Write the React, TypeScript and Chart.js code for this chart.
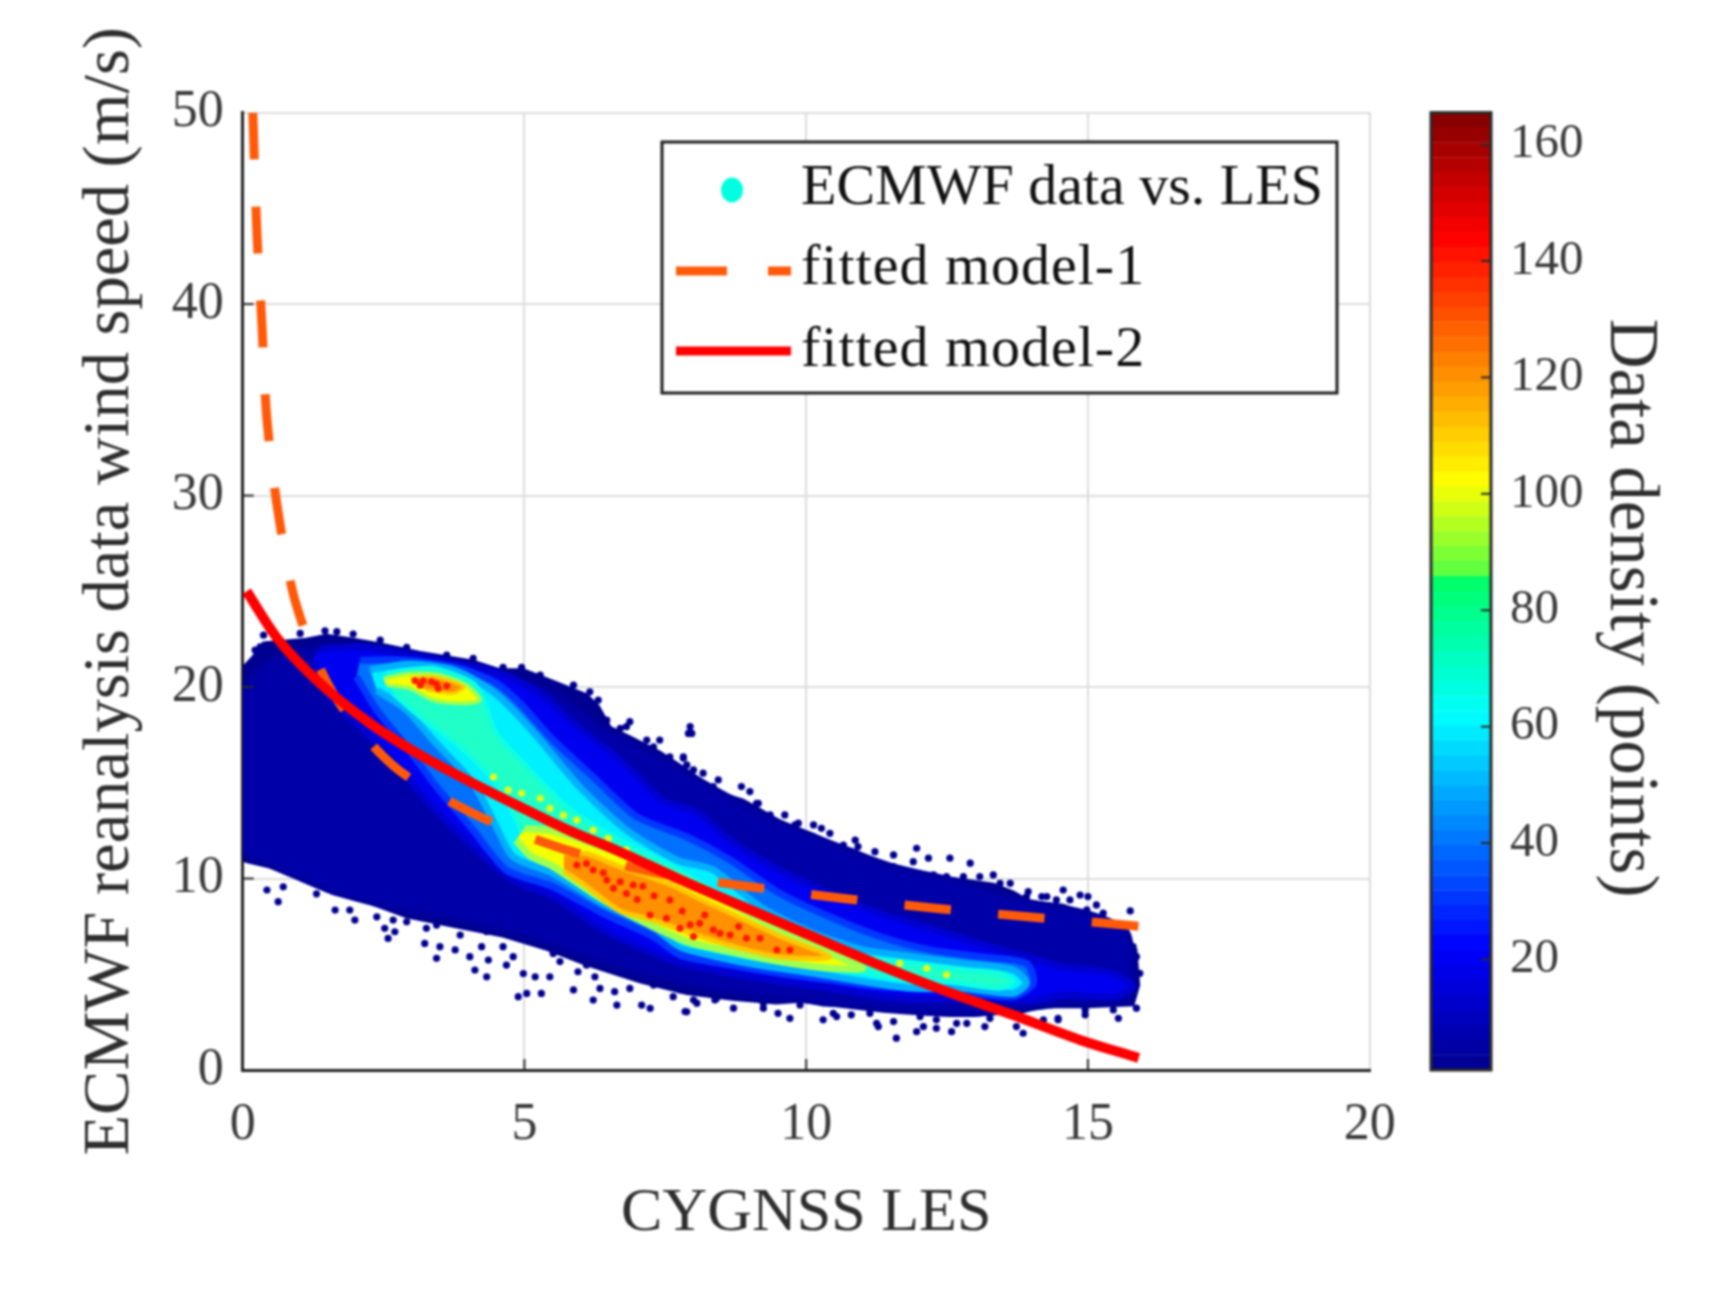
import React, { useEffect, useRef } from "react";
import { Chart, registerables } from "chart.js";

Chart.register(...registerables);

const FONT = '"Liberation Serif", serif';

const xTicks = [0, 5, 10, 15, 20];
const yTicks = [0, 10, 20, 30, 40, 50];
const legendLabels = ["ECMWF data vs. LES", "fitted model-1", "fitted model-2"];

const model1X = [0.18, 0.25, 0.34, 0.43, 0.63, 0.96, 1.6, 2.67, 4.09, 5.63, 7.35, 8.94, 10.63, 12.29, 13.94, 15.57, 15.9];
const model1Y = [50, 43.9, 39, 34, 29.1, 24.2, 19.7, 15.9, 13.4, 11.6, 10.3, 9.6, 8.97, 8.45, 8.0, 7.6, 7.5];
const model2X = [0.07, 0.6, 1.37, 2.26, 3.15, 4.04, 4.92, 5.8, 6.69, 7.76, 8.94, 10.13, 11.3, 12.5, 13.67, 14.86, 15.9];
const model2Y = [25, 22.6, 20.2, 18.1, 16.45, 15.05, 13.75, 12.5, 11.4, 9.95, 8.45, 6.95, 5.48, 4.09, 2.87, 1.57, 0.63];

type P = number[];
const envelope: P[] = [[0,21.0],[0.19,21.6],[0.37,22.3],[0.78,22.4],[1.13,22.5],[1.49,22.7],[1.96,22.5],[2.44,22.25],[3.15,21.8],[4.09,21.35],[4.57,20.9],[4.98,20.9],[5.51,20.3],[6.1,19.6],[6.31,19.0],[6.52,17.9],[6.87,17.4],[7.4,16.6],[7.82,15.8],[8.11,15.2],[8.44,14.5],[8.88,14.1],[9.18,13.6],[9.59,12.9],[10.13,12.3],[10.48,11.8],[10.84,11.5],[11.25,10.9],[11.55,10.5],[11.9,10.3],[12.85,9.9],[13.32,9.7],[13.67,9.3],[13.97,8.8],[14.56,8.6],[15.04,8.1],[15.27,7.5],[15.85,6.3],[15.9,4.44],[15.8,3.4],[14.98,3.3],[14.2,3.3],[13.79,3.0],[13.08,2.9],[12.37,3.0],[11.6,3.1],[11.07,3.3],[10.3,3.4],[9.95,3.6],[9.47,3.5],[8.7,3.7],[7.88,4.0],[7.05,4.6],[6.1,5.5],[5.4,6.3],[4.62,7],[3.74,7.5],[2.91,8],[2.26,8.7],[1.61,9.2],[0.9,10.1],[0.48,10.6],[0.07,10.88],[0,10.97]];
const levelDark: P[] = [[0,20],[0.4,21.3],[1,22],[2,22.1],[3.2,21.6],[4.5,20.7],[5.5,19.8],[6.4,17.9],[7.5,16.2],[8.5,14.5],[9.5,13],[10.5,11.8],[11.5,10.7],[12.8,9.8],[13.8,8.9],[15,8.2],[15.7,7.2],[15.8,4.5],[15.7,3.6],[14.5,3.4],[13,2.9],[11.5,3.1],[10,3.6],[8.5,4.1],[7,5],[6,6],[5,7],[3.7,7.9],[2.6,8.5],[1.5,9.4],[0.7,10.4],[0,11.3]];
const levelBlue: P[] = [[1.37,22],[2.08,22.1],[3.15,21.6],[4.09,21.06],[4.68,20.6],[5.28,19.67],[5.87,18.1],[6.7,16.2],[7.46,14.1],[8.1,13.4],[8.65,12],[9.53,10.45],[10.42,9.23],[11.31,8.2],[12.2,7.4],[13.08,6.6],[13.91,5.92],[14.56,5.4],[15.45,5.05],[15.8,4.36],[15.45,3.83],[14.56,3.92],[13.97,3.57],[13.08,3.75],[12.2,3.66],[11.31,3.83],[10.42,4.27],[9.53,4.62],[8.65,5.05],[7.76,5.58],[7.29,6.09],[6.4,7.31],[5.51,9.05],[4.8,9.92],[4.09,11.66],[3.26,14.1],[2.55,16.53],[1.96,18.27],[1.49,19.67],[1.25,21.4]];
const levelAzure: P[] = [[2.08,21.4],[2.91,21.4],[3.86,20.97],[4.5,20.2],[4.92,19.15],[5.51,17.23],[6.22,15.3],[6.99,13.23],[7.88,12.18],[8.65,10.97],[9.53,9.23],[10.42,8],[11.31,6.97],[12.2,6.27],[13.08,5.92],[13.91,5.57],[14.03,4.53],[13.67,3.83],[12.49,4.18],[11.31,4.36],[10.42,4.71],[9.53,5.05],[8.65,5.49],[7.76,6.01],[7.29,6.96],[6.4,8.18],[5.51,9.57],[4.68,10.44],[4.09,12.53],[3.44,14.79],[2.91,16.88],[2.38,18.8],[2.02,20.54]];
const levelCyan: P[] = [[2.26,20.9],[2.97,21.2],[3.74,20.9],[4.33,20],[4.74,18.97],[5.28,17.23],[5.98,14.79],[6.81,12.53],[7.7,10.97],[8.35,10.45],[9.18,8.53],[10.13,7.14],[11.01,6.27],[11.9,5.92],[12.79,5.57],[13.67,5.23],[13.91,4.53],[13.67,4],[12.79,4.27],[11.9,4.27],[11.01,4.62],[10.13,5.05],[8.94,5.58],[7.76,6.45],[7.29,7.48],[6.4,8.7],[5.51,10.27],[4.8,11.14],[4.5,12.7],[4.09,14.97],[3.38,17.23],[2.91,18.8],[2.38,19.84]];
const levelGreen: P[] = [[2.55,20.71],[3.38,20.97],[4.09,20.19],[4.27,19.32],[4.5,17.58],[5.04,15.84],[5.75,13.75],[6.58,12.18],[7.46,10.88],[8.23,9.58],[9.12,8.19],[10.13,6.71],[11.01,5.92],[11.9,5.57],[12.79,5.23],[13.44,5.05],[13.67,4.62],[13.44,4.27],[12.49,4.62],[11.6,4.79],[10.72,5.23],[9.53,5.66],[8.35,6.27],[7.76,6.71],[7.29,7.74],[6.4,9.14],[5.51,10.62],[5.04,11.31],[4.92,12.7],[4.45,15.14],[3.86,16.88],[3.15,18.45],[2.67,19.67]];
const yellowUpper: P[] = [[2.5,20.45],[2.97,20.71],[3.5,20.62],[3.97,20.1],[4.21,19.32],[3.92,19.15],[3.38,19.32],[2.97,19.93],[2.55,20.1]];
const yellowLower: P[] = [[5,12.6],[5.5,12.5],[6.1,11.94],[6.99,11],[8.1,9.6],[8.65,8.7],[9.53,7.3],[10.42,6.1],[11.01,5.31],[10.42,5.31],[9.53,5.66],[8.65,6.2],[7.9,6.7],[7,7.9],[6.22,9.22],[5.51,10.62],[5.1,11.2],[4.85,12]];
const orangeUpper: P[] = [[2.97,20.45],[3.38,20.54],[3.92,20.02],[3.74,19.67],[3.26,19.84]];
const orangeLower: P[] = [[5.7,11.3],[6.1,11.3],[6.7,10.6],[7.58,9.7],[8.1,8.95],[8.65,8.2],[9.53,7],[10.42,5.9],[9.53,5.9],[8.65,6.5],[8.1,7],[7.2,7.9],[6.7,8.3],[6.1,9.6],[5.7,10.4]];

const hotPoints: P[] = [[6.22,10.44],[6.46,9.92],[6.7,9.83],[6.93,9.66],[7.23,8.09],[7.52,7.92],[7.76,7.4],[7.58,8.88],[6.1,10.79],[5.93,10.7],[6.58,9.49],[6.81,9.22],[7.94,7.58],[8.11,7.66],[8.35,7.32],[8.65,7.05],[8.94,6.88],[9.18,6.88],[9.48,6.27],[9.71,6.27],[8,6.97],[8.47,7.14],[3.06,20.33],[3.2,20.33],[3.35,20.28],[3.47,19.93],[3.62,20.05],[3.15,20.1],[3.44,20.16],[7,8.9],[7.3,9.1],[7.8,8.3],[8.2,8.1],[6.4,10.3],[7.1,9.6],[8.8,7.5]];
const yellowPoints: P[] = [[4.45,15.3],[4.95,14.45],[4.71,14.62],[5.28,14.19],[5.45,13.66],[5.69,13.31],[5.93,13.05],[6.22,12.53],[6.49,12.1],[6.81,11.49],[11.66,5.58],[12.14,5.31],[12.49,4.97]];
const sparsePoints: P[] = [[0.63,8.79],[0.43,9.4],[0.72,9.57],[1.08,10.1],[1.31,9.2],[1.64,8.35],[1.9,8.35],[1.99,7.83],[2.38,8],[2.67,7.83],[2.52,7.4],[2.58,6.87],[2.7,7.22],[3.26,7.4],[3.44,5.83],[3.23,6.61],[3.5,6.44],[3.77,6.27],[4.03,5.92],[4.12,5.22],[4.33,4.87],[4.36,5.74],[4.24,6.44],[4.62,6.44],[4.68,5.48],[4.8,5.92],[4.89,3.83],[5.04,4],[5.3,4],[4.98,5.04],[5.19,4.87],[5.45,4.87],[5.63,5.66],[5.87,4.18],[5.95,5.13],[6.22,3.65],[6.25,4.87],[6.34,4.26],[6.64,3.39],[6.6,4.09],[6.87,4.26],[7.08,3.39],[7.23,3.22],[7.29,4.44],[7.64,3.83],[7.88,3.04],[8,3.65],[6.87,18.19],[6.81,17.93],[7.94,17.93],[7.97,17.58],[7.4,17.23],[6.9,16.71],[7.82,16.36],[7.29,16.88],[7.91,17.58],[7.82,16.28],[8.44,15.15],[8.85,14.8],[9.15,13.93],[9.62,13.32],[9.86,12.89],[10.13,12.8],[10.42,12.36],[10.87,12],[10.92,11.67],[11.22,11.4],[11.55,11.23],[11.96,11.58],[12.17,11.06],[12.55,11.06],[12.91,10.8],[11.9,10.88],[13.32,10.19],[13.62,9.75],[13.94,9.32],[14.56,9.4],[14.86,9.14],[15,9.06],[15.75,8.31],[15.27,8.19],[15.15,8.62],[14.18,9.06],[7.85,3.05],[8.38,3.66],[8.71,3.23],[9.24,3.23],[9.5,2.96],[9.71,2.7],[10.3,2.62],[10.54,2.79],[10.8,2.88],[11.28,2.27],[11.55,2.53],[11.6,1.66],[11.96,2],[12.08,2.27],[12.31,2.18],[12.58,2],[12.67,2.44],[13.17,2.27],[13.85,1.92],[13.73,2.27],[14.47,2.62],[14.95,2.88],[15.54,2.7],[15.86,3.23]];
const edgePoints: P[] = [[7.88,15.93],[8.17,15.5],[8.35,14.8],[8.65,14.19],[9,14.54],[9.12,13.93],[9.36,13.32],[9.8,12.8],[10.27,12.62],[9.98,12.28],[10.66,11.75],[11.07,10.97],[11.37,10.45],[11.55,10.62],[11.84,10.28],[12.26,10.19],[12.49,10.1],[12.79,10.1],[13.08,10.1],[13.44,9.75],[13.91,9.06],[14.27,9.06],[14.44,8.88],[14.68,8.88],[14.98,8.36],[15.12,7.93],[15.45,6.79],[15.8,6.45],[15.86,5.92],[15.92,5.05],[8.06,3.49],[8.41,3.75],[9.24,3.49],[9.89,3.4],[10.48,2.96],[11.13,2.96],[11.25,2.44],[12.02,2.79],[12.31,2.62],[12.85,2.44],[13.26,2.7],[14.21,2.62],[14.47,2.7],[14.95,3.14],[15.45,3.14],[0.37,22.71],[1.02,22.8],[1.46,22.94],[1.67,22.89],[1.96,22.77],[2.44,22.45],[0.31,22.1],[0.22,21.93],[2.91,22.07],[3.62,21.67],[4.09,21.5],[4.62,21.03],[4.95,21.03],[5.28,20.63],[5.87,20.1],[6.16,19.75],[6.31,19.32],[6.46,18.27],[6.7,17.84],[7.17,17.23],[7.58,16.36],[8,15.67],[2.91,7.74],[3.44,7.57],[3.86,7.05],[4.33,7.22],[4.92,6.96],[5.51,6.09],[6.1,5.48],[6.7,5.22],[7.29,4.7],[7.76,4.18]];

const densityTicks = [20, 40, 60, 80, 100, 120, 140, 160];
const densityMin = 1;
const densityMax = 165.5;
const densityStops: [number, number[]][] = [[1,[0,0,143]],[22,[0,0,255]],[62,[0,255,255]],[72,[0,255,190]],[86,[0,255,96]],[87,[96,255,64]],[102,[255,255,0]],[144,[255,0,0]],[165.5,[128,0,0]]];
const densityBands = 64;

function colorAt(v: number) {
  for (let i = 1; i < densityStops.length; i++) {
    const [a, ca] = densityStops[i - 1];
    const [b, cb] = densityStops[i];
    if (v <= b) {
      const t = (v - a) / (b - a);
      return `rgb(${ca.map((c, k) => Math.round(c + (cb[k] - c) * t)).join(",")})`;
    }
  }
  return "rgb(128,0,0)";
}

const pts = (a: P[]) => a.map(([x, y]) => ({ x, y }));
const zip = (xs: number[], ys: number[]) => xs.map((x, i) => ({ x, y: ys[i] }));
const area = (label: string, a: P[], color: string, edge: string, width: number, order: number, tension = 0.25) => ({
  label, data: pts(a), showLine: true, fill: "shape", backgroundColor: color, borderColor: edge, borderWidth: width,
  pointRadius: 0, tension, order,
});
const dots = (label: string, a: P[], color: string, r: number, order: number) => ({
  label, data: pts(a), showLine: false, backgroundColor: color, borderWidth: 0, pointRadius: r, order,
});

const inwardTicks = {
  id: "inwardTicks",
  afterDatasetsDraw(chart: any) {
    const { ctx, scales, chartArea: a } = chart;
    ctx.save();
    ctx.strokeStyle = "#2a2a2a";
    ctx.lineWidth = 2;
    for (const v of xTicks.slice(1, -1)) {
      const p = scales.x.getPixelForValue(v);
      ctx.beginPath(); ctx.moveTo(p, a.bottom); ctx.lineTo(p, a.bottom - 11); ctx.stroke();
    }
    for (const v of yTicks.slice(1, -1)) {
      const p = scales.y.getPixelForValue(v);
      ctx.beginPath(); ctx.moveTo(a.left, p); ctx.lineTo(a.left + 11, p); ctx.stroke();
    }
    ctx.restore();
  },
};

const legendBox = {
  id: "legendBox",
  afterDatasetsDraw(chart: any) {
    const { ctx } = chart;
    ctx.save();
    ctx.fillStyle = "#fff";
    ctx.fillRect(662, 142, 675, 251);
    ctx.strokeStyle = "#1e1e1e";
    ctx.lineWidth = 3;
    ctx.strokeRect(662, 142, 675, 251);
    ctx.fillStyle = "#00ffe0";
    ctx.beginPath(); ctx.ellipse(732, 190, 11, 12.5, 0, 0, Math.PI * 2); ctx.fill();
    ctx.strokeStyle = "#ff5a0a";
    ctx.lineWidth = 9;
    ctx.beginPath(); ctx.moveTo(676, 271); ctx.lineTo(727, 271); ctx.moveTo(768, 271); ctx.lineTo(791, 271); ctx.stroke();
    ctx.strokeStyle = "#ff0000";
    ctx.beginPath(); ctx.moveTo(676, 351); ctx.lineTo(791, 351); ctx.stroke();
    ctx.fillStyle = "#111";
    ctx.font = `58px ${FONT}`;
    ctx.textAlign = "left";
    ctx.textBaseline = "alphabetic";
    ctx.letterSpacing = "0px";
    ctx.fillText(legendLabels[0], 801, 204);
    ctx.letterSpacing = "1px";
    ctx.fillText(legendLabels[1], 801, 284);
    ctx.fillText(legendLabels[2], 801, 366);
    ctx.restore();
  },
};

const colorbarDeco = {
  id: "colorbarDeco",
  afterDatasetsDraw(chart: any) {
    const { ctx, scales, chartArea: a } = chart;
    ctx.save();
    ctx.strokeStyle = "#2a2a2a";
    ctx.lineWidth = 3;
    ctx.strokeRect(a.left, a.top, a.right - a.left, a.bottom - a.top);
    ctx.lineWidth = 2;
    for (const v of densityTicks) {
      const p = scales.y.getPixelForValue(v);
      ctx.beginPath(); ctx.moveTo(a.right, p); ctx.lineTo(a.right - 10, p); ctx.stroke();
    }
    ctx.translate(219, 608);
    ctx.rotate(Math.PI / 2);
    ctx.fillStyle = "#2e2e2e";
    ctx.font = `69px ${FONT}`;
    ctx.textAlign = "center";
    ctx.textBaseline = "middle";
    ctx.fillText("Data density (points)", 0, 0);
    ctx.restore();
  },
};

export default function App() {
  const mainRef = useRef<HTMLCanvasElement>(null);
  const barRef = useRef<HTMLCanvasElement>(null);

  useEffect(() => {
    const main = new Chart(mainRef.current!, {
      type: "scatter",
      plugins: [inwardTicks, legendBox],
      data: {
        datasets: [
          { label: "fitted model-2", data: zip(model2X, model2Y), showLine: true, borderColor: "#ff0000", borderWidth: 10, pointRadius: 0, cubicInterpolationMode: "monotone", order: 0 },
          { label: "fitted model-1", data: zip(model1X, model1Y), showLine: true, borderColor: "#ff5a0a", borderWidth: 9, borderDash: [47, 47], pointRadius: 0, tension: 0.3, order: 1 },
          dots("high density", hotPoints, "#ff1800", 3.5, 2),
          dots("medium density", yellowPoints, "#e8ff10", 3.5, 3),
          area("orange upper", orangeUpper, "#ff9000", "#ffc800", 3, 4),
          area("orange lower", orangeLower, "#ff9000", "#ffc800", 5, 4),
          area("yellow upper", yellowUpper, "#f4ff00", "#a0ff50", 4, 5),
          area("yellow lower", yellowLower, "#f4ff00", "#a0ff50", 7, 5),
          area("green", levelGreen, "#20ffc8", "#10ffe0", 5, 6),
          area("cyan", levelCyan, "#00f0ff", "#00b0ff", 7, 7),
          area("azure", levelAzure, "#0070ff", "#0038ff", 7, 8),
          area("blue", levelBlue, "#0000f0", "#0000d0", 7, 9),
          area("dark", levelDark, "#0000a8", "#00009c", 5, 10),
          dots("sparse", sparsePoints, "#00008f", 3.6, 11),
          dots("edge", edgePoints, "#00008f", 3.6, 11),
          area("ECMWF data vs. LES", envelope, "#000090", "#000090", 3, 12, 0),
        ] as any,
      },
      options: {
        animation: false,
        responsive: false,
        layout: { padding: { left: 0, top: 112.6, right: 40.3, bottom: 0 } },
        plugins: { legend: { display: false }, tooltip: { enabled: false } },
        scales: {
          x: {
            type: "linear", min: 0, max: 20,
            afterBuildTicks: (s: any) => { s.ticks = xTicks.map((value) => ({ value })); },
            afterFit: (s: any) => { s.height = 223; s.paddingLeft = 0; s.paddingRight = 0; },
            grid: { color: "#dcdcdc", lineWidth: 2, drawTicks: false },
            border: { color: "#222", width: 3 },
            ticks: { color: "#3a3a3a", font: { family: FONT, size: 52 }, padding: 24, maxRotation: 0 },
            title: { display: true, text: "CYGNSS LES", color: "#2e2e2e", font: { family: FONT, size: 62 }, padding: { top: 0, bottom: 42 } },
          },
          y: {
            type: "linear", min: 0, max: 50,
            afterBuildTicks: (s: any) => { s.ticks = yTicks.map((value) => ({ value })); },
            afterFit: (s: any) => { s.width = 242.7; },
            grid: { color: "#dcdcdc", lineWidth: 2, drawTicks: false },
            border: { color: "#222", width: 3 },
            ticks: { color: "#3a3a3a", font: { family: FONT, size: 52 }, padding: 19 },
            title: { display: true, text: "ECMWF reanalysis data wind speed (m/s)", color: "#2e2e2e", font: { family: FONT, size: 66.5 }, padding: { top: 71, bottom: 0 } },
          },
        },
      },
    } as any);

    const bandSize = (densityMax - densityMin) / densityBands;
    const barDatasets = Array.from({ length: densityBands }, (_, i) => ({
      label: `band ${i}`,
      data: [[densityMin + i * bandSize, densityMin + (i + 1) * bandSize]],
      backgroundColor: colorAt(densityMin + (i + 0.5) * bandSize),
      borderColor: colorAt(densityMin + (i + 0.5) * bandSize),
      borderWidth: 0.5,
      barPercentage: 1,
      categoryPercentage: 1,
      borderSkipped: false,
    }));
    const bar = new Chart(barRef.current!, {
      type: "bar",
      plugins: [colorbarDeco],
      data: { labels: ["density"], datasets: barDatasets as any },
      options: {
        animation: false,
        responsive: false,
        layout: { padding: { left: 21, top: 112.6, right: 0, bottom: 223 } },
        plugins: { legend: { display: false }, tooltip: { enabled: false } },
        scales: {
          x: { display: false, stacked: true },
          y: {
            position: "right", min: densityMin, max: densityMax,
            afterBuildTicks: (s: any) => { s.ticks = densityTicks.map((value) => ({ value })); },
            afterFit: (s: any) => { s.width = 223; },
            grid: { display: false, drawTicks: false },
            border: { display: false },
            ticks: { color: "#3a3a3a", font: { family: FONT, size: 49 }, padding: 19 },
          },
        },
      },
    } as any);

    return () => { main.destroy(); bar.destroy(); };
  }, []);

  return (
    <div style={{ position: "absolute", left: 0, top: 0, width: 1714, height: 1293, background: "#fff", filter: "blur(0.9px)" }}>
      <canvas ref={mainRef} width={1410} height={1293} style={{ position: "absolute", left: 0, top: 0 }} />
      <canvas ref={barRef} width={304} height={1293} style={{ position: "absolute", left: 1410, top: 0 }} />
    </div>
  );
}
